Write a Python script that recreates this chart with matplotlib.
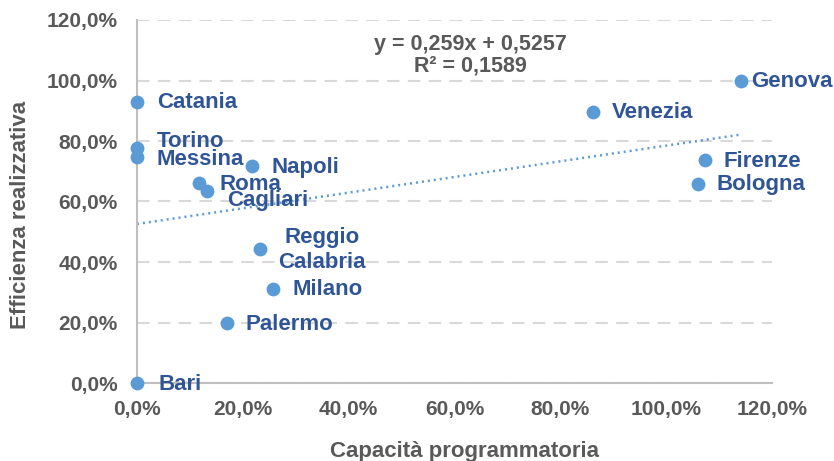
import matplotlib.pyplot as plt
import numpy as np
from matplotlib.ticker import FuncFormatter

# Data (fractions)
cities = ['Catania', 'Torino', 'Messina', 'Napoli', 'Roma', 'Cagliari',
          'Reggio\nCalabria', 'Milano', 'Palermo', 'Bari',
          'Venezia', 'Genova', 'Firenze', 'Bologna']
capacita = [0.0, 0.0, 0.0, 0.217, 0.118, 0.132,
            0.232, 0.257, 0.170, 0.0,
            0.861, 1.141, 1.073, 1.060]
efficienza = [0.929, 0.777, 0.747, 0.717, 0.661, 0.635,
              0.443, 0.311, 0.198, 0.0,
              0.896, 1.000, 0.737, 0.658]

# trendline reported in the chart
slope, intercept = 0.259, 0.5257
r2 = 0.1589

# label offsets in pixels (dx, dy, ha)
offsets = {
    'Catania': (20, -1, 'left'), 'Torino': (20, 6, 'left'), 'Messina': (20, -2, 'left'),
    'Napoli': (20, -1, 'left'), 'Roma': (20, -1, 'left'), 'Cagliari': (20, -10, 'left'),
    'Reggio\nCalabria': (62, -1, 'center'), 'Milano': (20, -1, 'left'),
    'Palermo': (19, -1, 'left'), 'Bari': (21, -1, 'left'), 'Venezia': (19, -1, 'left'),
    'Genova': (10, -1, 'left'), 'Firenze': (19, -1, 'left'), 'Bologna': (19, -1, 'left'),
}

grey = '#595959'
point_col = '#5B9BD5'
label_col = '#2F5597'

plt.rcParams['font.family'] = ['Liberation Sans', 'DejaVu Sans']
plt.rcParams['font.weight'] = 'bold'

fig = plt.figure(figsize=(8.34, 4.61), dpi=100)
ax = fig.add_axes([137 / 834, 78 / 461, 635 / 834, 363 / 461])

# trendline
xs = np.array([0.0, max(capacita)])
ax.plot(xs, slope * xs + intercept, color=point_col, lw=1.8, ls=(0, (0.8, 1.6)), zorder=2)

ax.scatter(capacita, efficienza, s=80, color=point_col, zorder=3, clip_on=False)

for name, x, y in zip(cities, capacita, efficienza):
    dx, dy, ha = offsets[name]
    ax.annotate(name, (x, y), xytext=(dx, dy), textcoords='offset pixels',
                ha=ha, va='center', fontsize=16, fontweight='bold', color=label_col,
                multialignment='center', linespacing=1.25, zorder=4)

eq = f'y = {slope:g}x + {intercept:g}'.replace('.', ',')
ax.text(0.63, 1.12, eq, ha='center', va='center', fontsize=15.5,
        fontweight='bold', color=grey)
ax.text(0.63, 1.047, f'R² = {r2:g}'.replace('.', ','),
        ha='center', va='center', fontsize=15.5, fontweight='bold', color=grey)

ax.set_xlim(0, 1.2)
ax.set_ylim(0, 1.2)
ax.set_xticks(np.arange(0, 1.21, 0.2))
ax.set_yticks(np.arange(0, 1.21, 0.2))
fmt = FuncFormatter(lambda v, _: f'{v * 100:.1f}%'.replace('.', ','))
ax.xaxis.set_major_formatter(fmt)
ax.yaxis.set_major_formatter(fmt)
ax.tick_params(length=0, labelsize=15, labelcolor=grey)
ax.tick_params(axis='y', pad=14)
ax.tick_params(axis='x', pad=12)

ax.yaxis.grid(True, color='#D9D9D9', ls=(0, (6, 4)), lw=1.5)
ax.set_axisbelow(True)
for s in ['top', 'right']:
    ax.spines[s].set_visible(False)
for s in ['left', 'bottom']:
    ax.spines[s].set_color('#BFBFBF')
    ax.spines[s].set_linewidth(1.5)

fig.text(465 / 834, 1 - 451 / 461, 'Capacità programmatoria', ha='center', va='center',
         fontsize=16, fontweight='bold', color=grey)
fig.text(21 / 834, 1 - 215 / 461, 'Efficienza realizzativa', ha='center', va='center',
         rotation=90, fontsize=16, fontweight='bold', color=grey)

fig.savefig('out.png', dpi=100)
